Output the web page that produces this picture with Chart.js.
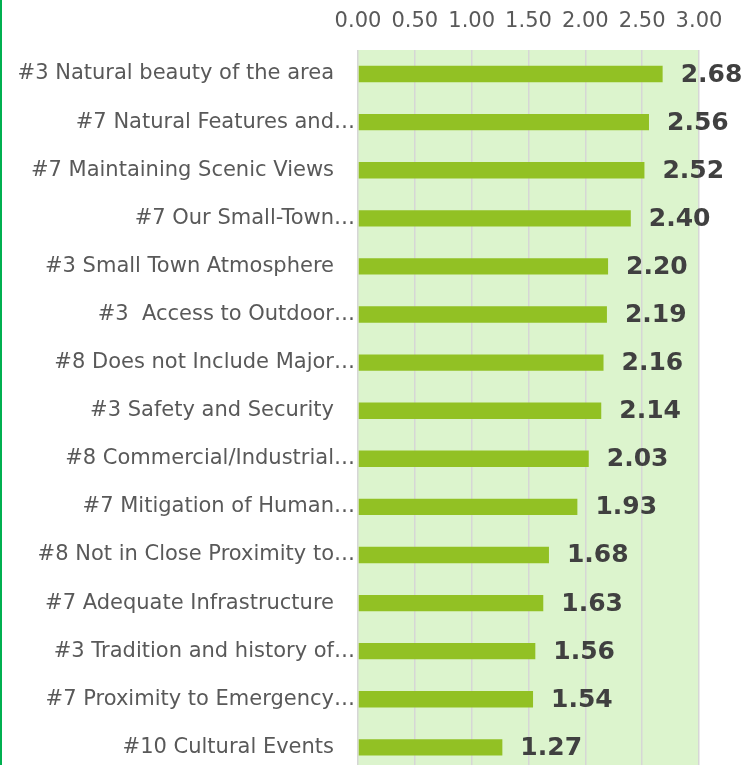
<!DOCTYPE html>
<html>
<head>
<meta charset="utf-8">
<script src="https://cdn.jsdelivr.net/npm/chart.js@4.4.1/dist/chart.umd.min.js"></script>
<style>
  html, body { margin: 0; padding: 0; background: #ffffff; overflow: hidden; }
  #wrap { position: relative; width: 746px; height: 765px; overflow: hidden; }
  #edge { position: absolute; left: 0; top: 0; width: 2px; height: 765px; background: #00b050; }
  canvas { position: absolute; left: 0; top: 0; }
</style>
</head>
<body>
<div id="wrap">
  <canvas id="barChart" width="746" height="787"></canvas>
  <div id="edge"></div>
</div>
<script>
const categories = [
    '#3 Natural beauty of the area ',
    '#7 Natural Features and\u2026',
    '#7 Maintaining Scenic Views ',
    '#7 Our Small-Town\u2026',
    '#3 Small Town Atmosphere ',
    '#3  Access to Outdoor\u2026',
    '#8 Does not Include Major\u2026',
    '#3 Safety and Security ',
    '#8 Commercial/Industrial\u2026',
    '#7 Mitigation of Human\u2026',
    '#8 Not in Close Proximity to\u2026',
    '#7 Adequate Infrastructure ',
    '#3 Tradition and history of\u2026',
    '#7 Proximity to Emergency\u2026',
    '#10 Cultural Events '
];
const scores = [2.68, 2.56, 2.52, 2.40, 2.20, 2.19, 2.16, 2.14, 2.03, 1.93, 1.68, 1.63, 1.56, 1.54, 1.27];
const tickValues = [0, 0.5, 1, 1.5, 2, 2.5, 3];

// light green plot background
const plotBackground = {
    id: 'plotBackground',
    beforeDraw(chart) {
        const { ctx, chartArea } = chart;
        ctx.save();
        ctx.fillStyle = '#dcf4cd';
        ctx.fillRect(chartArea.left, chartArea.top, chartArea.right - chartArea.left, chartArea.bottom - chartArea.top);
        ctx.restore();
    }
};

// value labels to the right of each bar
const valueLabels = {
    id: 'valueLabels',
    afterDatasetsDraw(chart) {
        const ctx = chart.ctx;
        const meta = chart.getDatasetMeta(0);
        ctx.save();
        ctx.font = 'bold 25px "DejaVu Sans"';
        ctx.fillStyle = '#404040';
        ctx.textAlign = 'left';
        ctx.textBaseline = 'middle';
        meta.data.forEach((bar, i) => {
            ctx.fillText(scores[i].toFixed(2), bar.x + 18, bar.y + 1);
        });
        ctx.restore();
    }
};

const ctx = document.getElementById('barChart').getContext('2d');
new Chart(ctx, {
    type: 'bar',
    data: {
        labels: categories,
        datasets: [{
            data: scores,
            backgroundColor: '#92c124',
            borderWidth: 0,
            barPercentage: 0.34,
            categoryPercentage: 1
        }]
    },
    options: {
        indexAxis: 'y',
        responsive: false,
        animation: false,
        layout: { padding: { left: 0, right: 47, top: 0, bottom: 0 } },
        plugins: {
            legend: { display: false },
            tooltip: { enabled: false }
        },
        scales: {
            x: {
                position: 'top',
                min: 0,
                max: 3,
                afterBuildTicks: function(scale) {
                    scale.ticks = tickValues.map(v => ({ value: v }));
                },
                afterFit: function(scale) { scale.height = 50; },
                grid: { color: '#d6d6d6', lineWidth: 1.5, drawTicks: false },
                border: { display: false },
                ticks: {
                    color: '#595959',
                    font: { family: 'DejaVu Sans', size: 21 },
                    padding: 16,
                    maxRotation: 0,
                    callback: function(v) { return Number(v).toFixed(2); }
                }
            },
            y: {
                afterFit: function(scale) { scale.width = 358; },
                grid: { display: false, drawTicks: false },
                border: { display: false },
                ticks: {
                    color: '#595959',
                    font: { family: 'DejaVu Sans', size: 21 },
                    padding: 3,
                    autoSkip: false,
                    // the source's trailing blank is wider than a normal space
                    callback: function(v) { return this.getLabelForValue(v).replace(/ $/, '\u2003'); }
                }
            }
        }
    },
    plugins: [plotBackground, valueLabels]
});
</script>
</body>
</html>
